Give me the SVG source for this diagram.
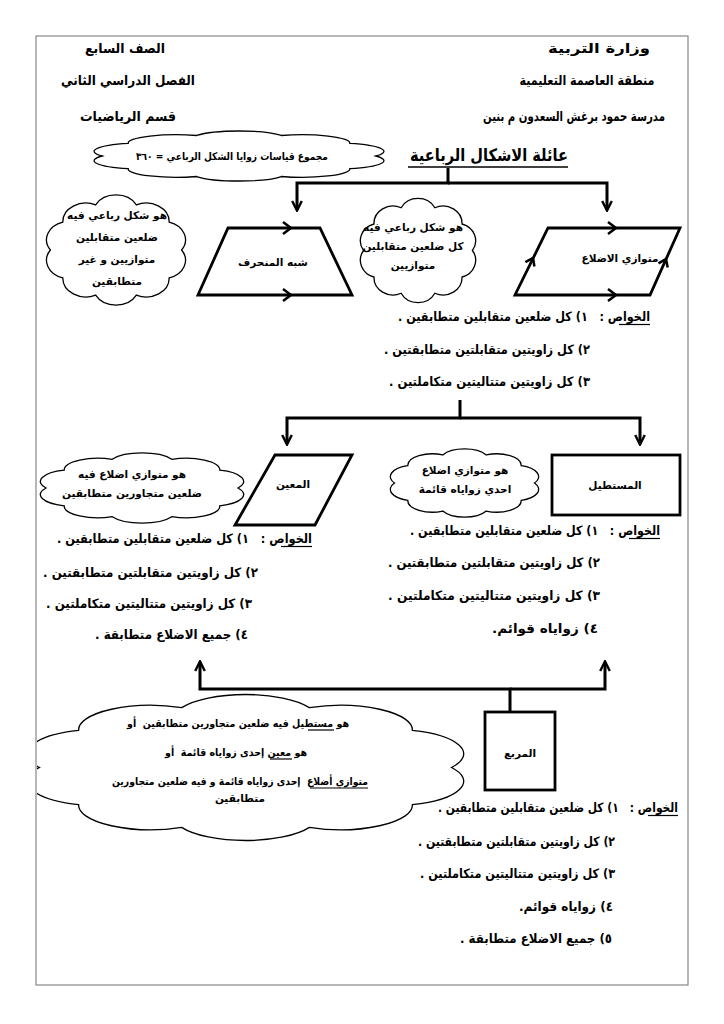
<svg xmlns="http://www.w3.org/2000/svg" xmlns:xlink="http://www.w3.org/1999/xlink" width="724" height="1024" viewBox="0 0 724 1024">
<style>
text{font-family:"DejaVu Sans","Liberation Sans",sans-serif;font-weight:bold;fill:#000;direction:rtl;text-anchor:middle}
.h{font-size:13.5px}
.t{font-size:17px}
.p{font-size:13px}
.s{font-size:10.5px}
.ul{stroke:#000;stroke-width:1.2}
.shape{fill:#fff;stroke:#000;stroke-width:2.8;stroke-linejoin:miter}
.chev{fill:none;stroke:#000;stroke-width:2.5}
.conn{fill:none;stroke:#000;stroke-width:3}
.cl{fill:#fff;stroke:#000;stroke-width:1.3;vector-effect:non-scaling-stroke}
</style>
<defs>
<path id="cloud" class="cl" d="M10,50 A14,14 0 0 1 17.6,28.8 A14,14 0 0 1 37.6,15.8 A14,14 0 0 1 62.4,15.8 A14,14 0 0 1 82.4,28.8 A14,14 0 0 1 90,50 A14,14 0 0 1 82.4,71.2 A14,14 0 0 1 62.4,84.2 A14,14 0 0 1 37.6,84.2 A14,14 0 0 1 17.6,71.2 A14,14 0 0 1 10,50 Z"/>
<marker id="ah" viewBox="0 0 10 10" refX="8.5" refY="5" markerWidth="4" markerHeight="4" orient="auto">
<path d="M1,1 L9,5 L1,9" fill="none" stroke="#000" stroke-width="2"/>
</marker>
<clipPath id="page"><rect x="37" y="36" width="651" height="949"/></clipPath>
</defs>
<rect x="36" y="36" width="652" height="949" fill="#fff" stroke="#888" stroke-width="1.2"/>

<g id="header">
<text class="h" x="599" y="53" textLength="102" lengthAdjust="spacingAndGlyphs">وزارة التربية</text>
<text class="h" x="587" y="85" textLength="135" lengthAdjust="spacingAndGlyphs">منطقة العاصمة التعليمية</text>
<text class="h" x="574" y="121" textLength="182" lengthAdjust="spacingAndGlyphs">مدرسة حمود برغش السعدون م بنين</text>
<text class="h" x="125" y="53" textLength="80" lengthAdjust="spacingAndGlyphs">الصف السابع</text>
<text class="h" x="128" y="85" textLength="134" lengthAdjust="spacingAndGlyphs">الفصل الدراسي الثاني</text>
<text class="h" x="128" y="121" textLength="96" lengthAdjust="spacingAndGlyphs">قسم الرياضيات</text>
</g>

<g id="connectors">
<path class="conn" d="M448,168 V183 H297 V210" marker-end="url(#ah)"/>
<path class="conn" d="M448,183 H607 V210" marker-end="url(#ah)"/>
<path class="conn" d="M460,400 V418 H287 V444" marker-end="url(#ah)"/>
<path class="conn" d="M460,418 H640 V444" marker-end="url(#ah)"/>
<path class="conn" d="M510,712 V689 H200 V662" marker-end="url(#ah)"/>
<path class="conn" d="M510,689 H605 V662" marker-end="url(#ah)"/>
</g>

<g id="sum-cloud">
<use xlink:href="#cloud" transform="translate(68,126) scale(3.42,0.6)"/>
<text class="s" x="232" y="160" textLength="192" lengthAdjust="spacingAndGlyphs">مجموع قياسات زوايا الشكل الرباعي = ٣٦٠</text>
</g>

<g id="title">
<text class="t" x="489" y="161" textLength="158" lengthAdjust="spacingAndGlyphs">عائلة الاشكال الرباعية</text>
<line x1="408" y1="167" x2="568" y2="167" stroke="#000" stroke-width="1.5"/>
</g>

<g id="trap-def">
<use xlink:href="#cloud" transform="translate(34,184) scale(1.64,1.32)"/>
<text class="s" x="117" y="219">هو شكل رباعي فيه</text>
<text class="s" x="117" y="241">ضلعين متقابلين</text>
<text class="s" x="117" y="263">متوازيين و غير</text>
<text class="s" x="117" y="285">متطابقين</text>
</g>

<g id="trapezoid">
<polygon class="shape" points="228,228 320,228 352,295 198,295"/>
<polyline class="chev" points="283,222 291,228 283,234"/>
<polyline class="chev" points="283,289 291,295 283,301"/>
<text class="s" x="273" y="266">شبه المنحرف</text>
</g>

<g id="para-def">
<use xlink:href="#cloud" transform="translate(350,188) scale(1.36,1.25)"/>
<text class="s" x="413" y="231">هو شكل رباعي فيه</text>
<text class="s" x="413" y="250">كل ضلعين متقابلين</text>
<text class="s" x="413" y="269">متوازيين</text>
</g>

<g id="parallelogram">
<polygon class="shape" points="548,228 680,228 650,295 515,295"/>
<polyline class="chev" points="608,222 616,228 608,234"/>
<polyline class="chev" points="608,289 616,295 608,301"/>
<polyline class="chev" points="534.4,266.5 533,258 525.4,262.1"/>
<polyline class="chev" points="667.7,267.4 666,259 658.5,263.4"/>
<text class="s" x="620" y="262">متوازي الاضلاع</text>
</g>

<g id="props-para">
<text class="p" x="524" y="321" textLength="252" lengthAdjust="spacingAndGlyphs">الخواص :&#160;&#160;&#160;١) كل ضلعين متقابلين متطابقين .</text>
<line class="ul" x1="619" y1="324.5" x2="650" y2="324.5"/>
<text class="p" x="487" y="354" textLength="206" lengthAdjust="spacingAndGlyphs">٢) كل زاويتين متقابلتين متطابقتين .</text>
<text class="p" x="489.5" y="386" textLength="201" lengthAdjust="spacingAndGlyphs">٣) كل زاويتين متتاليتين متكاملتين .</text>
</g>

<g id="rhombus-def" clip-path="url(#page)">
<use xlink:href="#cloud" transform="translate(22,446) scale(2.4,0.84)"/>
<text class="s" x="132" y="478">هو متوازي اضلاع فيه</text>
<text class="s" x="132" y="497">ضلعين متجاورين متطابقين</text>
</g>

<g id="rhombus">
<polygon class="shape" points="275,455 352,455 315,525 235,525"/>
<text class="s" x="293" y="488">المعين</text>
</g>

<g id="rect-def">
<use xlink:href="#cloud" transform="translate(377,442) scale(1.75,0.82)"/>
<text class="s" x="465" y="474">هو متوازي اضلاع</text>
<text class="s" x="465" y="493">احدي زواياه قائمة</text>
</g>

<g id="rectangle">
<rect class="shape" x="552" y="455" width="128" height="60"/>
<text class="s" x="615" y="489">المستطيل</text>
</g>

<g id="props-rhombus">
<text class="p" x="184.5" y="543" textLength="255" lengthAdjust="spacingAndGlyphs">الخواص :&#160;&#160;&#160;١) كل ضلعين متقابلين متطابقين .</text>
<line class="ul" x1="281" y1="546.5" x2="312" y2="546.5"/>
<text class="p" x="150.5" y="577" textLength="215" lengthAdjust="spacingAndGlyphs">٢) كل زاويتين متقابلتين متطابقتين .</text>
<text class="p" x="149" y="608" textLength="206" lengthAdjust="spacingAndGlyphs">٣) كل زاويتين متتاليتين متكاملتين .</text>
<text class="p" x="171.5" y="639" textLength="153" lengthAdjust="spacingAndGlyphs">٤) جميع الاضلاع متطابقة .</text>
</g>

<g id="props-rect">
<text class="p" x="535" y="535" textLength="250" lengthAdjust="spacingAndGlyphs">الخواص :&#160;&#160;&#160;١) كل ضلعين متقابلين متطابقين .</text>
<line class="ul" x1="629" y1="538.5" x2="660" y2="538.5"/>
<text class="p" x="494" y="567" textLength="212" lengthAdjust="spacingAndGlyphs">٢) كل زاويتين متقابلتين متطابقتين .</text>
<text class="p" x="494" y="600" textLength="212" lengthAdjust="spacingAndGlyphs">٣) كل زاويتين متتاليتين متكاملتين .</text>
<text class="p" x="545" y="633" textLength="106" lengthAdjust="spacingAndGlyphs">٤) زواياه قوائم.</text>
</g>

<g id="square-def" clip-path="url(#page)">
<use xlink:href="#cloud" transform="translate(-12,680) scale(5.15,1.75)"/>
<text class="s" x="238" y="727" textLength="222" lengthAdjust="spacingAndGlyphs">هو مستطيل فيه ضلعين متجاورين متطابقين&#160; أو</text>
<line class="ul" x1="308" y1="730" x2="334" y2="730"/>
<text class="s" x="236" y="756" textLength="142" lengthAdjust="spacingAndGlyphs">هو معين إحدى زواياه قائمة&#160; أو</text>
<line class="ul" x1="270" y1="759" x2="292" y2="759"/>
<text class="s" x="240" y="785" textLength="256" lengthAdjust="spacingAndGlyphs">متوازي أضلاع&#160; إحدى زواياه قائمة و فيه ضلعين متجاورين</text>
<line class="ul" x1="310" y1="788" x2="368" y2="788"/>
<text class="s" x="240" y="802">متطابقين</text>
</g>

<g id="square">
<rect class="shape" x="485" y="712" width="70" height="78"/>
<text class="s" x="520" y="757">المربع</text>
</g>

<g id="props-square">
<text class="p" x="558" y="812" textLength="240" lengthAdjust="spacingAndGlyphs">الخواص :&#160;&#160;&#160;١) كل ضلعين متقابلين متطابقين .</text>
<line class="ul" x1="648" y1="815.5" x2="678" y2="815.5"/>
<text class="p" x="516.5" y="846" textLength="197" lengthAdjust="spacingAndGlyphs">٢) كل زاويتين متقابلتين متطابقتين .</text>
<text class="p" x="517.5" y="878" textLength="195" lengthAdjust="spacingAndGlyphs">٣) كل زاويتين متتاليتين متكاملتين .</text>
<text class="p" x="566" y="911" textLength="94" lengthAdjust="spacingAndGlyphs">٤) زواياه قوائم.</text>
<text class="p" x="536" y="943" textLength="152" lengthAdjust="spacingAndGlyphs">٥) جميع الاضلاع متطابقة .</text>
</g>
</svg>
